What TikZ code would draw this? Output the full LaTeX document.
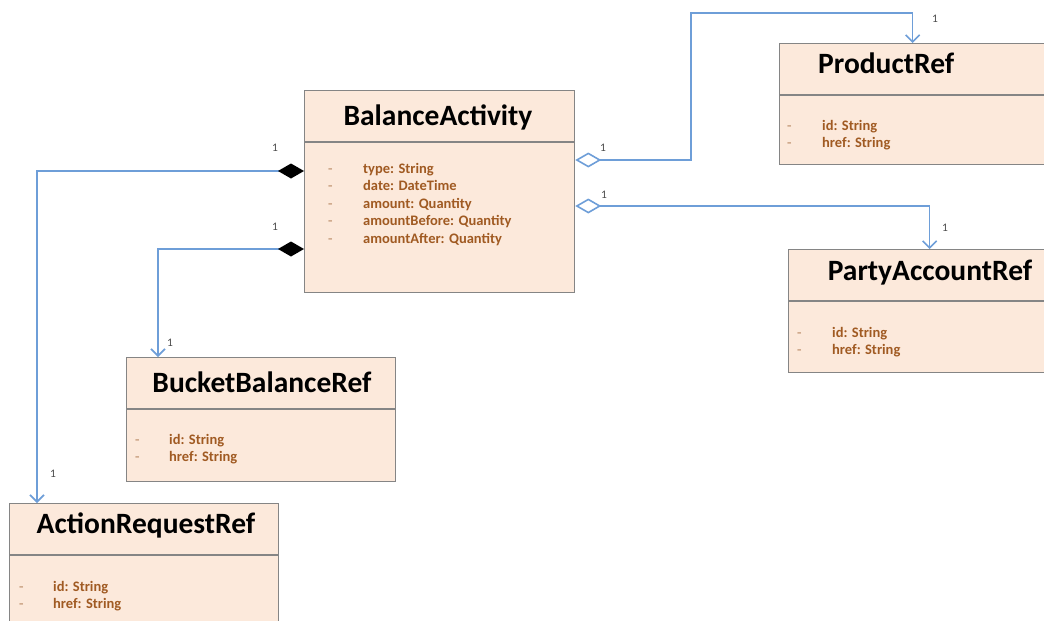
\documentclass[tikz,border=0pt]{standalone}
\usepackage{fontspec}
\setmainfont{Carlito}
\usetikzlibrary{arrows.meta}

\definecolor{boxfill}{HTML}{FCE9DB}
\definecolor{boxline}{HTML}{858585}
\definecolor{attrtext}{HTML}{A05A22}
\definecolor{linkblue}{HTML}{6E9ED8}

\begin{document}
\begin{tikzpicture}[x=1pt,y=-1pt,
  classbox/.style={draw=boxline, line width=1.3pt, fill=boxfill, anchor=north west, inner sep=0pt},
  classname/.style={font=\bfseries\fontsize{29.5}{31}\selectfont, anchor=base, inner sep=0pt},
  attrs/.style={font=\bfseries\fontsize{14.5}{17.5}\selectfont, text=attrtext, align=left, anchor=base west, inner sep=0pt},
  attrs2/.style={attrs, font=\bfseries\fontsize{14.5}{17}\selectfont},
  mult/.style={font=\fontsize{11.5}{12}\selectfont, text=black!70, inner sep=0pt},
  link/.style={draw=linkblue, line width=1.6pt},
  comp/.style={link, {Diamond[length=26pt,width=15pt,fill=black,color=black]}-{Straight Barb[length=7pt,width=14pt]}},
  aggr/.style={link, {Diamond[open,length=26pt,width=15pt,fill=white]}-{Straight Barb[length=7pt,width=14pt]}}
]

\useasboundingbox (0,0) rectangle (1044,621);
\clip (0,0) rectangle (1044,621);

%%%%%%%%%%%%%%%%%%%%%%%%%%%%%%%%%%%%%%%%%%
  % Classes
  \node[classbox, minimum width=270pt, minimum height=202pt] (balance) at (304,90) {};
  \node[classbox, minimum width=266pt, minimum height=121pt] (product) at (779,43) {};
  \node[classbox, minimum width=282pt, minimum height=123pt] (party) at (788,249) {};
  \node[classbox, minimum width=269pt, minimum height=124pt] (bucket) at (126,357) {};
  \node[classbox, minimum width=269pt, minimum height=124pt] (action) at (9,503) {};

  % Dividers under the names
  \foreach \c in {balance,product,party,bucket,action}
    \draw[boxline, line width=1.3pt] ([yshift=-52pt]\c.north west) -- ([yshift=-52pt]\c.north east);

  % Names
  \node[classname] (balance-name) at (438,125) {BalanceActivity};
  \node[classname, anchor=base west] (product-name) at (818,73) {ProductRef};
  \node[classname] (party-name) at (930,280) {PartyAccountRef};
  \node[classname] (bucket-name) at (262,392) {BucketBalanceRef};
  \node[classname] (action-name) at (146,533) {ActionRequestRef};

  % Attributes (placed at the baseline of the last line)
  \node[attrs] (balance-attrs) at (328,243) {%
    \makebox[35pt][l]{\textcolor{attrtext!55}{-}}type: String\\
    \makebox[35pt][l]{\textcolor{attrtext!55}{-}}date: DateTime\\
    \makebox[35pt][l]{\textcolor{attrtext!55}{-}}amount: Quantity\\
    \makebox[35pt][l]{\textcolor{attrtext!55}{-}}amountBefore: Quantity\\
    \makebox[35pt][l]{\textcolor{attrtext!55}{-}}amountAfter: Quantity};
  \node[attrs2] (product-attrs) at (787,147) {%
    \makebox[35pt][l]{\textcolor{attrtext!55}{-}}id: String\\
    \makebox[35pt][l]{\textcolor{attrtext!55}{-}}href: String};
  \node[attrs2] (party-attrs) at (797,354) {%
    \makebox[35pt][l]{\textcolor{attrtext!55}{-}}id: String\\
    \makebox[35pt][l]{\textcolor{attrtext!55}{-}}href: String};
  \node[attrs2] (bucket-attrs) at (135,461) {%
    \makebox[34pt][l]{\textcolor{attrtext!55}{-}}id: String\\
    \makebox[34pt][l]{\textcolor{attrtext!55}{-}}href: String};
  \node[attrs2] (action-attrs) at (19,608) {%
    \makebox[34pt][l]{\textcolor{attrtext!55}{-}}id: String\\
    \makebox[34pt][l]{\textcolor{attrtext!55}{-}}href: String};

%%%%%%%%%%%%%%%%%%%%%%%%%%%%%%%%%%%%%%%%%%
  % Associations
  \coordinate (product-bend) at (691,13);
  \draw[aggr] ([yshift=-70pt]balance.north east) -| (product-bend) -| (product.north);
  \draw[aggr] ([yshift=-116pt]balance.north east) -| (party.north);
  \draw[comp] ([yshift=-81pt]balance.north west) -| ([xshift=28pt]action.north west);
  \draw[comp] ([yshift=-159pt]balance.north west) -| ([xshift=32pt]bucket.north west);

  % Multiplicities
  \node[mult] (m-product-from) at (603,148) {1};
  \node[mult] (m-product-to) at (935,19) {1};
  \node[mult] (m-party-from) at (604,195) {1};
  \node[mult] (m-party-to) at (945,228) {1};
  \node[mult] (m-action-from) at (275,148) {1};
  \node[mult] (m-action-to) at (53,474) {1};
  \node[mult] (m-bucket-from) at (275,227) {1};
  \node[mult] (m-bucket-to) at (170,343) {1};

\end{tikzpicture}
\end{document}
